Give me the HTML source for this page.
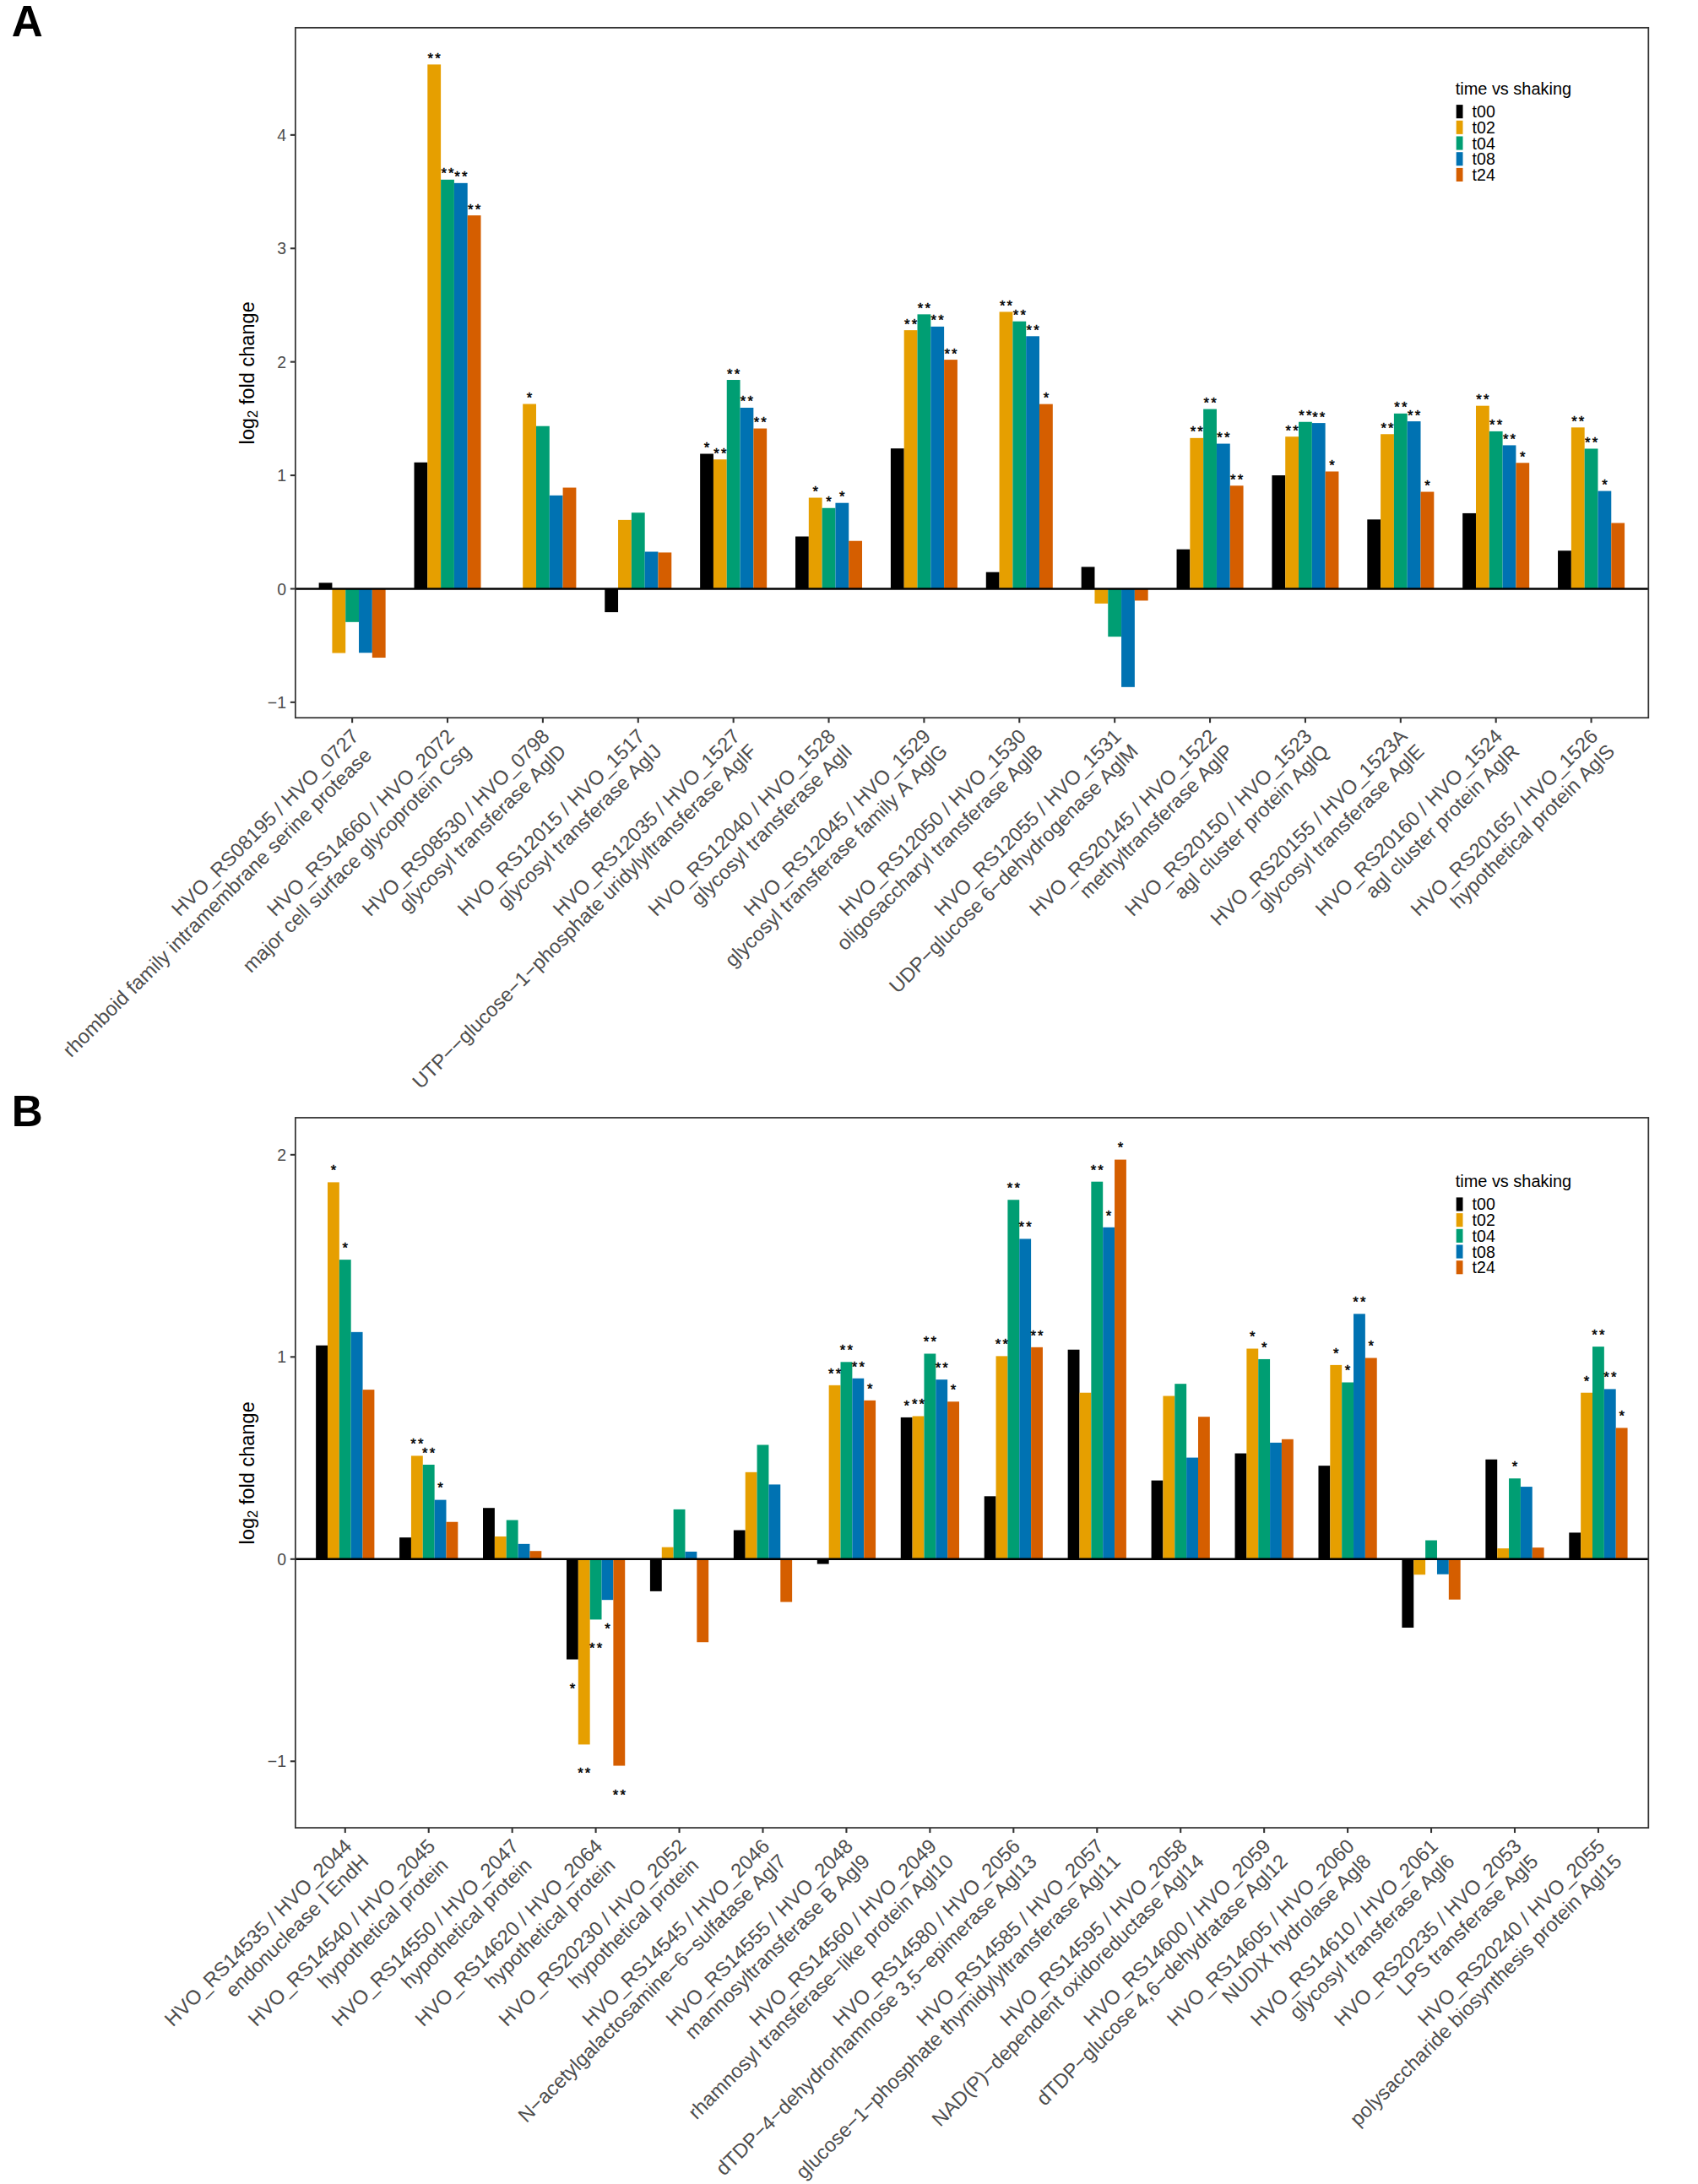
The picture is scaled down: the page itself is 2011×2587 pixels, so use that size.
<!DOCTYPE html>
<html lang="en"><head><meta charset="utf-8"><title>Figure</title>
<style>html,body{margin:0;padding:0;background:#fff;}svg{display:block;font-family:"Liberation Sans",sans-serif;}text{white-space:pre;font-kerning:none;}</style></head><body>
<svg width="2011" height="2587" viewBox="0 0 2011 2587">
<rect width="2011" height="2587" fill="#fff"/>
<text x="13.7" y="42.9" font-size="51.2" font-weight="bold" fill="#000">A</text>
<rect x="377.62" y="690.33" width="15.8" height="7.12" fill="#000000"/>
<rect x="393.42" y="697.45" width="15.8" height="76.07" fill="#E69F00"/>
<rect x="409.23" y="697.45" width="15.8" height="39.38" fill="#009E73"/>
<rect x="425.03" y="697.45" width="15.8" height="75.8" fill="#0072B2"/>
<rect x="440.83" y="697.45" width="15.8" height="81.58" fill="#D55E00"/>
<rect x="490.5" y="547.73" width="15.8" height="149.72" fill="#000000"/>
<rect x="506.3" y="76.39" width="15.8" height="621.06" fill="#E69F00"/>
<rect x="522.11" y="212.8" width="15.8" height="484.65" fill="#009E73"/>
<rect x="537.91" y="216.84" width="15.8" height="480.61" fill="#0072B2"/>
<rect x="553.71" y="255.14" width="15.8" height="442.31" fill="#D55E00"/>
<rect x="619.18" y="478.51" width="15.8" height="218.94" fill="#E69F00"/>
<rect x="634.99" y="504.72" width="15.8" height="192.73" fill="#009E73"/>
<rect x="650.79" y="586.84" width="15.8" height="110.61" fill="#0072B2"/>
<rect x="666.59" y="577.57" width="15.8" height="119.88" fill="#D55E00"/>
<rect x="716.26" y="697.45" width="15.8" height="27.69" fill="#000000"/>
<rect x="732.06" y="615.87" width="15.8" height="81.58" fill="#E69F00"/>
<rect x="747.87" y="607.27" width="15.8" height="90.18" fill="#009E73"/>
<rect x="763.67" y="653.5" width="15.8" height="43.95" fill="#0072B2"/>
<rect x="779.47" y="654.44" width="15.8" height="43.01" fill="#D55E00"/>
<rect x="829.14" y="537.51" width="15.8" height="159.94" fill="#000000"/>
<rect x="844.94" y="544.23" width="15.8" height="153.22" fill="#E69F00"/>
<rect x="860.75" y="450.02" width="15.8" height="247.43" fill="#009E73"/>
<rect x="876.55" y="482.95" width="15.8" height="214.5" fill="#0072B2"/>
<rect x="892.35" y="507.54" width="15.8" height="189.91" fill="#D55E00"/>
<rect x="942.02" y="635.49" width="15.8" height="61.96" fill="#000000"/>
<rect x="957.82" y="589.53" width="15.8" height="107.92" fill="#E69F00"/>
<rect x="973.63" y="601.76" width="15.8" height="95.69" fill="#009E73"/>
<rect x="989.43" y="595.71" width="15.8" height="101.74" fill="#0072B2"/>
<rect x="1005.23" y="640.73" width="15.8" height="56.72" fill="#D55E00"/>
<rect x="1054.9" y="531.2" width="15.8" height="166.25" fill="#000000"/>
<rect x="1070.7" y="391.15" width="15.8" height="306.3" fill="#E69F00"/>
<rect x="1086.51" y="372.34" width="15.8" height="325.11" fill="#009E73"/>
<rect x="1102.31" y="386.85" width="15.8" height="310.6" fill="#0072B2"/>
<rect x="1118.11" y="426.1" width="15.8" height="271.35" fill="#D55E00"/>
<rect x="1167.78" y="677.69" width="15.8" height="19.76" fill="#000000"/>
<rect x="1183.59" y="369.38" width="15.8" height="328.07" fill="#E69F00"/>
<rect x="1199.39" y="380.67" width="15.8" height="316.78" fill="#009E73"/>
<rect x="1215.19" y="398.28" width="15.8" height="299.17" fill="#0072B2"/>
<rect x="1231" y="478.65" width="15.8" height="218.8" fill="#D55E00"/>
<rect x="1280.66" y="671.51" width="15.8" height="25.94" fill="#000000"/>
<rect x="1296.47" y="697.45" width="15.8" height="17.47" fill="#E69F00"/>
<rect x="1312.27" y="697.45" width="15.8" height="56.72" fill="#009E73"/>
<rect x="1328.07" y="697.45" width="15.8" height="116.39" fill="#0072B2"/>
<rect x="1343.88" y="697.45" width="15.8" height="13.98" fill="#D55E00"/>
<rect x="1393.54" y="650.68" width="15.8" height="46.77" fill="#000000"/>
<rect x="1409.35" y="518.83" width="15.8" height="178.62" fill="#E69F00"/>
<rect x="1425.15" y="484.56" width="15.8" height="212.89" fill="#009E73"/>
<rect x="1440.95" y="525.55" width="15.8" height="171.9" fill="#0072B2"/>
<rect x="1456.76" y="575.28" width="15.8" height="122.17" fill="#D55E00"/>
<rect x="1506.42" y="563.05" width="15.8" height="134.4" fill="#000000"/>
<rect x="1522.23" y="517.22" width="15.8" height="180.23" fill="#E69F00"/>
<rect x="1538.03" y="499.75" width="15.8" height="197.7" fill="#009E73"/>
<rect x="1553.83" y="501.09" width="15.8" height="196.36" fill="#0072B2"/>
<rect x="1569.64" y="558.48" width="15.8" height="138.97" fill="#D55E00"/>
<rect x="1619.3" y="615.33" width="15.8" height="82.12" fill="#000000"/>
<rect x="1635.11" y="514.26" width="15.8" height="183.19" fill="#E69F00"/>
<rect x="1650.91" y="489.8" width="15.8" height="207.65" fill="#009E73"/>
<rect x="1666.71" y="499.08" width="15.8" height="198.37" fill="#0072B2"/>
<rect x="1682.52" y="582.54" width="15.8" height="114.91" fill="#D55E00"/>
<rect x="1732.18" y="607.94" width="15.8" height="89.51" fill="#000000"/>
<rect x="1747.99" y="480.66" width="15.8" height="216.79" fill="#E69F00"/>
<rect x="1763.79" y="510.9" width="15.8" height="186.55" fill="#009E73"/>
<rect x="1779.59" y="527.43" width="15.8" height="170.02" fill="#0072B2"/>
<rect x="1795.4" y="548.27" width="15.8" height="149.18" fill="#D55E00"/>
<rect x="1845.06" y="652.29" width="15.8" height="45.16" fill="#000000"/>
<rect x="1860.87" y="506.33" width="15.8" height="191.12" fill="#E69F00"/>
<rect x="1876.67" y="531.47" width="15.8" height="165.98" fill="#009E73"/>
<rect x="1892.47" y="581.6" width="15.8" height="115.85" fill="#0072B2"/>
<rect x="1908.28" y="619.5" width="15.8" height="77.95" fill="#D55E00"/>
<line x1="349.85" y1="697.45" x2="1952.3" y2="697.45" stroke="#000" stroke-width="2.6"/>
<g font-size="16.7" text-anchor="middle" letter-spacing="2.2" fill="#000" stroke="#000" stroke-width="0.45">
<text x="515.31" y="74.88">**</text>
<text x="531.11" y="211.3">**</text>
<text x="546.91" y="215.33">**</text>
<text x="562.71" y="253.63">**</text>
<text x="628.19" y="477">*</text>
<text x="838.14" y="536.01">*</text>
<text x="853.95" y="542.73">**</text>
<text x="869.75" y="448.51">**</text>
<text x="885.55" y="481.44">**</text>
<text x="901.36" y="506.04">**</text>
<text x="966.83" y="588.02">*</text>
<text x="982.63" y="600.25">*</text>
<text x="998.43" y="594.2">*</text>
<text x="1079.71" y="389.64">**</text>
<text x="1095.51" y="370.83">**</text>
<text x="1111.31" y="385.34">**</text>
<text x="1127.12" y="424.59">**</text>
<text x="1192.59" y="367.87">**</text>
<text x="1208.39" y="379.16">**</text>
<text x="1224.19" y="396.77">**</text>
<text x="1240" y="477.14">*</text>
<text x="1418.35" y="517.32">**</text>
<text x="1434.15" y="483.05">**</text>
<text x="1449.95" y="524.04">**</text>
<text x="1465.76" y="573.77">**</text>
<text x="1531.23" y="515.71">**</text>
<text x="1547.03" y="498.24">**</text>
<text x="1562.83" y="499.58">**</text>
<text x="1578.64" y="556.97">*</text>
<text x="1644.11" y="512.76">**</text>
<text x="1659.91" y="488.29">**</text>
<text x="1675.71" y="497.57">**</text>
<text x="1691.52" y="581.03">*</text>
<text x="1756.99" y="479.16">**</text>
<text x="1772.79" y="509.4">**</text>
<text x="1788.59" y="525.93">**</text>
<text x="1804.4" y="546.76">*</text>
<text x="1869.87" y="504.83">**</text>
<text x="1885.67" y="529.96">**</text>
<text x="1901.48" y="580.09">*</text>
</g>
<rect x="349.85" y="32.85" width="1602.45" height="817.35" fill="none" stroke="#333333" stroke-width="1.75"/>
<g font-size="19.5" text-anchor="end" fill="#4D4D4D">
<line x1="343.85" y1="831.85" x2="349.85" y2="831.85" stroke="#333333" stroke-width="2.1"/>
<text x="339" y="838.95">−1</text>
<line x1="343.85" y1="697.45" x2="349.85" y2="697.45" stroke="#333333" stroke-width="2.1"/>
<text x="339" y="704.55">0</text>
<line x1="343.85" y1="563.05" x2="349.85" y2="563.05" stroke="#333333" stroke-width="2.1"/>
<text x="339" y="570.15">1</text>
<line x1="343.85" y1="428.65" x2="349.85" y2="428.65" stroke="#333333" stroke-width="2.1"/>
<text x="339" y="435.75">2</text>
<line x1="343.85" y1="294.25" x2="349.85" y2="294.25" stroke="#333333" stroke-width="2.1"/>
<text x="339" y="301.35">3</text>
<line x1="343.85" y1="159.85" x2="349.85" y2="159.85" stroke="#333333" stroke-width="2.1"/>
<text x="339" y="166.95">4</text>
</g>
<g font-size="23.8" text-anchor="end" fill="#4D4D4D">
<line x1="417.13" y1="850.2" x2="417.13" y2="856.2" stroke="#333333" stroke-width="2.1"/>
<text transform="translate(426.38,873.55) rotate(-45)"><tspan x="0" y="0">HVO_RS08195 / HVO_0727</tspan><tspan x="1.3" y="26.8">rhomboid family intramembrane serine protease </tspan></text>
<line x1="530.01" y1="850.2" x2="530.01" y2="856.2" stroke="#333333" stroke-width="2.1"/>
<text transform="translate(539.26,873.55) rotate(-45)"><tspan x="0" y="0">HVO_RS14660 / HVO_2072</tspan><tspan x="1.3" y="26.8">major cell surface glycoprotein Csg</tspan></text>
<line x1="642.89" y1="850.2" x2="642.89" y2="856.2" stroke="#333333" stroke-width="2.1"/>
<text transform="translate(652.14,873.55) rotate(-45)"><tspan x="0" y="0">HVO_RS08530 / HVO_0798</tspan><tspan x="1.3" y="26.8">glycosyl transferase AglD</tspan></text>
<line x1="755.77" y1="850.2" x2="755.77" y2="856.2" stroke="#333333" stroke-width="2.1"/>
<text transform="translate(765.02,873.55) rotate(-45)"><tspan x="0" y="0">HVO_RS12015 / HVO_1517</tspan><tspan x="1.3" y="26.8">glycosyl transferase AglJ</tspan></text>
<line x1="868.65" y1="850.2" x2="868.65" y2="856.2" stroke="#333333" stroke-width="2.1"/>
<text transform="translate(877.9,873.55) rotate(-45)"><tspan x="0" y="0">HVO_RS12035 / HVO_1527</tspan><tspan x="1.3" y="26.8">UTP−−glucose−1−phosphate uridylyltransferase AglF</tspan></text>
<line x1="981.53" y1="850.2" x2="981.53" y2="856.2" stroke="#333333" stroke-width="2.1"/>
<text transform="translate(990.78,873.55) rotate(-45)"><tspan x="0" y="0">HVO_RS12040 / HVO_1528</tspan><tspan x="1.3" y="26.8">glycosyl transferase AglI</tspan></text>
<line x1="1094.41" y1="850.2" x2="1094.41" y2="856.2" stroke="#333333" stroke-width="2.1"/>
<text transform="translate(1103.66,873.55) rotate(-45)"><tspan x="0" y="0">HVO_RS12045 / HVO_1529</tspan><tspan x="1.3" y="26.8">glycosyl transferase family A AglG</tspan></text>
<line x1="1207.29" y1="850.2" x2="1207.29" y2="856.2" stroke="#333333" stroke-width="2.1"/>
<text transform="translate(1216.54,873.55) rotate(-45)"><tspan x="0" y="0">HVO_RS12050 / HVO_1530</tspan><tspan x="1.3" y="26.8">oligosaccharyl transferase AglB</tspan></text>
<line x1="1320.17" y1="850.2" x2="1320.17" y2="856.2" stroke="#333333" stroke-width="2.1"/>
<text transform="translate(1329.42,873.55) rotate(-45)"><tspan x="0" y="0">HVO_RS12055 / HVO_1531</tspan><tspan x="1.3" y="26.8">UDP−glucose 6−dehydrogenase AglM</tspan></text>
<line x1="1433.05" y1="850.2" x2="1433.05" y2="856.2" stroke="#333333" stroke-width="2.1"/>
<text transform="translate(1442.3,873.55) rotate(-45)"><tspan x="0" y="0">HVO_RS20145 / HVO_1522</tspan><tspan x="1.3" y="26.8">methyltransferase AglP</tspan></text>
<line x1="1545.93" y1="850.2" x2="1545.93" y2="856.2" stroke="#333333" stroke-width="2.1"/>
<text transform="translate(1555.18,873.55) rotate(-45)"><tspan x="0" y="0">HVO_RS20150 / HVO_1523</tspan><tspan x="1.3" y="26.8">agl cluster protein AglQ</tspan></text>
<line x1="1658.81" y1="850.2" x2="1658.81" y2="856.2" stroke="#333333" stroke-width="2.1"/>
<text transform="translate(1668.06,873.55) rotate(-45)"><tspan x="0" y="0">HVO_RS20155 / HVO_1523A</tspan><tspan x="1.3" y="26.8">glycosyl transferase AglE</tspan></text>
<line x1="1771.69" y1="850.2" x2="1771.69" y2="856.2" stroke="#333333" stroke-width="2.1"/>
<text transform="translate(1780.94,873.55) rotate(-45)"><tspan x="0" y="0">HVO_RS20160 / HVO_1524</tspan><tspan x="1.3" y="26.8">agl cluster protein AglR</tspan></text>
<line x1="1884.57" y1="850.2" x2="1884.57" y2="856.2" stroke="#333333" stroke-width="2.1"/>
<text transform="translate(1893.82,873.55) rotate(-45)"><tspan x="0" y="0">HVO_RS20165 / HVO_1526</tspan><tspan x="1.3" y="26.8">hypothetical protein AglS</tspan></text>
</g>
<text transform="translate(301.1,441.83) rotate(-90)" font-size="23.62" text-anchor="middle" fill="#000">log<tspan font-size="16.53" dy="4.2">2</tspan><tspan dy="-4.2"> fold change</tspan></text>
<g font-size="19.6" fill="#000">
<text x="1723.7" y="111.6" font-size="19.95">time vs shaking</text>
<rect x="1724.7" y="124.1" width="7.8" height="16.1" fill="#000000"/>
<text x="1743.6" y="139.1">t00</text>
<rect x="1724.7" y="142.8" width="7.8" height="16.1" fill="#E69F00"/>
<text x="1743.6" y="157.8">t02</text>
<rect x="1724.7" y="161.5" width="7.8" height="16.1" fill="#009E73"/>
<text x="1743.6" y="176.5">t04</text>
<rect x="1724.7" y="180.2" width="7.8" height="16.1" fill="#0072B2"/>
<text x="1743.6" y="195.2">t08</text>
<rect x="1724.7" y="198.9" width="7.8" height="16.1" fill="#D55E00"/>
<text x="1743.6" y="213.9">t24</text>
</g>
<text x="13.7" y="1334.1" font-size="51.2" font-weight="bold" fill="#000">B</text>
<rect x="374.14" y="1593.67" width="13.85" height="253.13" fill="#000000"/>
<rect x="387.99" y="1400.41" width="13.85" height="446.39" fill="#E69F00"/>
<rect x="401.84" y="1492.13" width="13.85" height="354.67" fill="#009E73"/>
<rect x="415.69" y="1577.86" width="13.85" height="268.94" fill="#0072B2"/>
<rect x="429.54" y="1646.12" width="13.85" height="200.68" fill="#D55E00"/>
<rect x="473.08" y="1821.18" width="13.85" height="25.62" fill="#000000"/>
<rect x="486.93" y="1724.43" width="13.85" height="122.37" fill="#E69F00"/>
<rect x="500.78" y="1734.96" width="13.85" height="111.84" fill="#009E73"/>
<rect x="514.64" y="1776.63" width="13.85" height="70.17" fill="#0072B2"/>
<rect x="528.49" y="1802.74" width="13.85" height="44.06" fill="#D55E00"/>
<rect x="572.02" y="1786.21" width="13.85" height="60.59" fill="#000000"/>
<rect x="585.88" y="1819.98" width="13.85" height="26.82" fill="#E69F00"/>
<rect x="599.73" y="1800.58" width="13.85" height="46.22" fill="#009E73"/>
<rect x="613.58" y="1828.84" width="13.85" height="17.96" fill="#0072B2"/>
<rect x="627.43" y="1837.22" width="13.85" height="9.58" fill="#D55E00"/>
<rect x="670.97" y="1846.8" width="13.85" height="118.78" fill="#000000"/>
<rect x="684.82" y="1846.8" width="13.85" height="219.6" fill="#E69F00"/>
<rect x="698.67" y="1846.8" width="13.85" height="71.6" fill="#009E73"/>
<rect x="712.53" y="1846.8" width="13.85" height="48.37" fill="#0072B2"/>
<rect x="726.38" y="1846.8" width="13.85" height="244.75" fill="#D55E00"/>
<rect x="769.91" y="1846.8" width="13.85" height="38.08" fill="#000000"/>
<rect x="783.77" y="1832.67" width="13.85" height="14.13" fill="#E69F00"/>
<rect x="797.62" y="1787.89" width="13.85" height="58.91" fill="#009E73"/>
<rect x="811.47" y="1837.94" width="13.85" height="8.86" fill="#0072B2"/>
<rect x="825.32" y="1846.8" width="13.85" height="98.43" fill="#D55E00"/>
<rect x="868.86" y="1812.55" width="13.85" height="34.25" fill="#000000"/>
<rect x="882.71" y="1743.82" width="13.85" height="102.98" fill="#E69F00"/>
<rect x="896.56" y="1711.49" width="13.85" height="135.31" fill="#009E73"/>
<rect x="910.41" y="1758.43" width="13.85" height="88.37" fill="#0072B2"/>
<rect x="924.27" y="1846.8" width="13.85" height="50.77" fill="#D55E00"/>
<rect x="967.8" y="1846.8" width="13.85" height="5.75" fill="#000000"/>
<rect x="981.65" y="1640.85" width="13.85" height="205.95" fill="#E69F00"/>
<rect x="995.51" y="1613.31" width="13.85" height="233.49" fill="#009E73"/>
<rect x="1009.36" y="1632.7" width="13.85" height="214.1" fill="#0072B2"/>
<rect x="1023.21" y="1658.81" width="13.85" height="187.99" fill="#D55E00"/>
<rect x="1066.75" y="1678.92" width="13.85" height="167.88" fill="#000000"/>
<rect x="1080.6" y="1677.49" width="13.85" height="169.31" fill="#E69F00"/>
<rect x="1094.45" y="1603.49" width="13.85" height="243.31" fill="#009E73"/>
<rect x="1108.3" y="1634.14" width="13.85" height="212.66" fill="#0072B2"/>
<rect x="1122.16" y="1660.25" width="13.85" height="186.55" fill="#D55E00"/>
<rect x="1165.69" y="1772.32" width="13.85" height="74.48" fill="#000000"/>
<rect x="1179.54" y="1606.36" width="13.85" height="240.44" fill="#E69F00"/>
<rect x="1193.4" y="1421.24" width="13.85" height="425.56" fill="#009E73"/>
<rect x="1207.25" y="1467.46" width="13.85" height="379.34" fill="#0072B2"/>
<rect x="1221.1" y="1595.82" width="13.85" height="250.98" fill="#D55E00"/>
<rect x="1264.64" y="1598.7" width="13.85" height="248.1" fill="#000000"/>
<rect x="1278.49" y="1649.71" width="13.85" height="197.09" fill="#E69F00"/>
<rect x="1292.34" y="1399.69" width="13.85" height="447.11" fill="#009E73"/>
<rect x="1306.19" y="1453.81" width="13.85" height="392.99" fill="#0072B2"/>
<rect x="1320.05" y="1373.59" width="13.85" height="473.21" fill="#D55E00"/>
<rect x="1363.58" y="1753.64" width="13.85" height="93.16" fill="#000000"/>
<rect x="1377.43" y="1653.54" width="13.85" height="193.26" fill="#E69F00"/>
<rect x="1391.29" y="1639.17" width="13.85" height="207.63" fill="#009E73"/>
<rect x="1405.14" y="1726.58" width="13.85" height="120.22" fill="#0072B2"/>
<rect x="1418.99" y="1678.21" width="13.85" height="168.59" fill="#D55E00"/>
<rect x="1462.53" y="1721.55" width="13.85" height="125.25" fill="#000000"/>
<rect x="1476.38" y="1597.5" width="13.85" height="249.3" fill="#E69F00"/>
<rect x="1490.23" y="1609.95" width="13.85" height="236.85" fill="#009E73"/>
<rect x="1504.08" y="1708.86" width="13.85" height="137.94" fill="#0072B2"/>
<rect x="1517.93" y="1704.79" width="13.85" height="142.01" fill="#D55E00"/>
<rect x="1561.47" y="1736.16" width="13.85" height="110.64" fill="#000000"/>
<rect x="1575.32" y="1616.9" width="13.85" height="229.9" fill="#E69F00"/>
<rect x="1589.17" y="1637.49" width="13.85" height="209.31" fill="#009E73"/>
<rect x="1603.03" y="1556.31" width="13.85" height="290.49" fill="#0072B2"/>
<rect x="1616.88" y="1608.52" width="13.85" height="238.28" fill="#D55E00"/>
<rect x="1660.41" y="1846.8" width="13.85" height="81.18" fill="#000000"/>
<rect x="1674.27" y="1846.8" width="13.85" height="18.44" fill="#E69F00"/>
<rect x="1688.12" y="1824.53" width="13.85" height="22.27" fill="#009E73"/>
<rect x="1701.97" y="1846.8" width="13.85" height="17.96" fill="#0072B2"/>
<rect x="1715.82" y="1846.8" width="13.85" height="47.9" fill="#D55E00"/>
<rect x="1759.36" y="1728.74" width="13.85" height="118.06" fill="#000000"/>
<rect x="1773.21" y="1834.11" width="13.85" height="12.69" fill="#E69F00"/>
<rect x="1787.06" y="1751.25" width="13.85" height="95.55" fill="#009E73"/>
<rect x="1800.92" y="1761.07" width="13.85" height="85.73" fill="#0072B2"/>
<rect x="1814.77" y="1833.15" width="13.85" height="13.65" fill="#D55E00"/>
<rect x="1858.3" y="1815.43" width="13.85" height="31.37" fill="#000000"/>
<rect x="1872.16" y="1649.71" width="13.85" height="197.09" fill="#E69F00"/>
<rect x="1886.01" y="1595.11" width="13.85" height="251.69" fill="#009E73"/>
<rect x="1899.86" y="1645.4" width="13.85" height="201.4" fill="#0072B2"/>
<rect x="1913.71" y="1691.38" width="13.85" height="155.42" fill="#D55E00"/>
<line x1="349.85" y1="1846.8" x2="1952.3" y2="1846.8" stroke="#000" stroke-width="2.6"/>
<g font-size="16.7" text-anchor="middle" letter-spacing="2.2" fill="#000" stroke="#000" stroke-width="0.45">
<text x="396.01" y="1392.25">*</text>
<text x="409.87" y="1483.97">*</text>
<text x="494.96" y="1716.27">**</text>
<text x="508.81" y="1726.8">**</text>
<text x="522.66" y="1768.47">*</text>
<text x="679" y="2005.63">*</text>
<text x="692.85" y="2106.45">**</text>
<text x="706.7" y="1958.45">**</text>
<text x="720.55" y="1935.22">*</text>
<text x="734.4" y="2131.6">**</text>
<text x="989.68" y="1632.69">**</text>
<text x="1003.53" y="1605.15">**</text>
<text x="1017.39" y="1624.55">**</text>
<text x="1031.24" y="1650.65">*</text>
<text x="1074.77" y="1670.77">*</text>
<text x="1088.63" y="1669.33">**</text>
<text x="1102.48" y="1595.33">**</text>
<text x="1116.33" y="1625.98">**</text>
<text x="1130.18" y="1652.09">*</text>
<text x="1187.57" y="1598.2">**</text>
<text x="1201.42" y="1413.08">**</text>
<text x="1215.27" y="1459.3">**</text>
<text x="1229.13" y="1587.67">**</text>
<text x="1300.37" y="1391.53">**</text>
<text x="1314.22" y="1445.65">*</text>
<text x="1328.07" y="1365.43">*</text>
<text x="1484.4" y="1589.34">*</text>
<text x="1498.26" y="1601.8">*</text>
<text x="1583.35" y="1608.74">*</text>
<text x="1597.2" y="1629.34">*</text>
<text x="1611.05" y="1548.15">**</text>
<text x="1624.9" y="1600.36">*</text>
<text x="1795.09" y="1743.09">*</text>
<text x="1880.18" y="1641.55">*</text>
<text x="1894.03" y="1586.95">**</text>
<text x="1907.89" y="1637.24">**</text>
<text x="1921.74" y="1683.22">*</text>
</g>
<rect x="349.85" y="1323.95" width="1602.45" height="841.1" fill="none" stroke="#333333" stroke-width="1.75"/>
<g font-size="19.5" text-anchor="end" fill="#4D4D4D">
<line x1="343.85" y1="2086.28" x2="349.85" y2="2086.28" stroke="#333333" stroke-width="2.1"/>
<text x="339" y="2093.38">−1</text>
<line x1="343.85" y1="1846.8" x2="349.85" y2="1846.8" stroke="#333333" stroke-width="2.1"/>
<text x="339" y="1853.9">0</text>
<line x1="343.85" y1="1607.32" x2="349.85" y2="1607.32" stroke="#333333" stroke-width="2.1"/>
<text x="339" y="1614.42">1</text>
<line x1="343.85" y1="1367.84" x2="349.85" y2="1367.84" stroke="#333333" stroke-width="2.1"/>
<text x="339" y="1374.94">2</text>
</g>
<g font-size="23.8" text-anchor="end" fill="#4D4D4D">
<line x1="408.77" y1="2165.05" x2="408.77" y2="2171.05" stroke="#333333" stroke-width="2.1"/>
<text transform="translate(418.02,2188.4) rotate(-45)"><tspan x="0" y="0">HVO_RS14535 / HVO_2044</tspan><tspan x="1.3" y="26.8">endonuclease I EndH</tspan></text>
<line x1="507.71" y1="2165.05" x2="507.71" y2="2171.05" stroke="#333333" stroke-width="2.1"/>
<text transform="translate(516.96,2188.4) rotate(-45)"><tspan x="0" y="0">HVO_RS14540 / HVO_2045</tspan><tspan x="1.3" y="26.8">hypothetical protein </tspan></text>
<line x1="606.66" y1="2165.05" x2="606.66" y2="2171.05" stroke="#333333" stroke-width="2.1"/>
<text transform="translate(615.91,2188.4) rotate(-45)"><tspan x="0" y="0">HVO_RS14550 / HVO_2047</tspan><tspan x="1.3" y="26.8">hypothetical protein </tspan></text>
<line x1="705.6" y1="2165.05" x2="705.6" y2="2171.05" stroke="#333333" stroke-width="2.1"/>
<text transform="translate(714.85,2188.4) rotate(-45)"><tspan x="0" y="0">HVO_RS14620 / HVO_2064</tspan><tspan x="1.3" y="26.8">hypothetical protein </tspan></text>
<line x1="804.54" y1="2165.05" x2="804.54" y2="2171.05" stroke="#333333" stroke-width="2.1"/>
<text transform="translate(813.79,2188.4) rotate(-45)"><tspan x="0" y="0">HVO_RS20230 / HVO_2052</tspan><tspan x="1.3" y="26.8">hypothetical protein </tspan></text>
<line x1="903.49" y1="2165.05" x2="903.49" y2="2171.05" stroke="#333333" stroke-width="2.1"/>
<text transform="translate(912.74,2188.4) rotate(-45)"><tspan x="0" y="0">HVO_RS14545 / HVO_2046</tspan><tspan x="1.3" y="26.8">N−acetylgalactosamine−6−sulfatase Agl7</tspan></text>
<line x1="1002.43" y1="2165.05" x2="1002.43" y2="2171.05" stroke="#333333" stroke-width="2.1"/>
<text transform="translate(1011.68,2188.4) rotate(-45)"><tspan x="0" y="0">HVO_RS14555 / HVO_2048</tspan><tspan x="1.3" y="26.8">mannosyltransferase B Agl9</tspan></text>
<line x1="1101.38" y1="2165.05" x2="1101.38" y2="2171.05" stroke="#333333" stroke-width="2.1"/>
<text transform="translate(1110.63,2188.4) rotate(-45)"><tspan x="0" y="0">HVO_RS14560 / HVO_2049</tspan><tspan x="1.3" y="26.8">rhamnosyl transferase−like protein Agl10</tspan></text>
<line x1="1200.32" y1="2165.05" x2="1200.32" y2="2171.05" stroke="#333333" stroke-width="2.1"/>
<text transform="translate(1209.57,2188.4) rotate(-45)"><tspan x="0" y="0">HVO_RS14580 / HVO_2056</tspan><tspan x="1.3" y="26.8">dTDP−4−dehydrorhamnose 3,5−epimerase Agl13</tspan></text>
<line x1="1299.27" y1="2165.05" x2="1299.27" y2="2171.05" stroke="#333333" stroke-width="2.1"/>
<text transform="translate(1308.52,2188.4) rotate(-45)"><tspan x="0" y="0">HVO_RS14585 / HVO_2057</tspan><tspan x="1.3" y="26.8">glucose−1−phosphate thymidylyltransferase Agl11</tspan></text>
<line x1="1398.21" y1="2165.05" x2="1398.21" y2="2171.05" stroke="#333333" stroke-width="2.1"/>
<text transform="translate(1407.46,2188.4) rotate(-45)"><tspan x="0" y="0">HVO_RS14595 / HVO_2058</tspan><tspan x="1.3" y="26.8">NAD(P)−dependent oxidoreductase Agl14</tspan></text>
<line x1="1497.16" y1="2165.05" x2="1497.16" y2="2171.05" stroke="#333333" stroke-width="2.1"/>
<text transform="translate(1506.41,2188.4) rotate(-45)"><tspan x="0" y="0">HVO_RS14600 / HVO_2059</tspan><tspan x="1.3" y="26.8">dTDP−glucose 4,6−dehydratase Agl12</tspan></text>
<line x1="1596.1" y1="2165.05" x2="1596.1" y2="2171.05" stroke="#333333" stroke-width="2.1"/>
<text transform="translate(1605.35,2188.4) rotate(-45)"><tspan x="0" y="0">HVO_RS14605 / HVO_2060</tspan><tspan x="1.3" y="26.8">NUDIX hydrolase Agl8</tspan></text>
<line x1="1695.04" y1="2165.05" x2="1695.04" y2="2171.05" stroke="#333333" stroke-width="2.1"/>
<text transform="translate(1704.29,2188.4) rotate(-45)"><tspan x="0" y="0">HVO_RS14610 / HVO_2061</tspan><tspan x="1.3" y="26.8">glycosyl transferase Agl6</tspan></text>
<line x1="1793.99" y1="2165.05" x2="1793.99" y2="2171.05" stroke="#333333" stroke-width="2.1"/>
<text transform="translate(1803.24,2188.4) rotate(-45)"><tspan x="0" y="0">HVO_RS20235 / HVO_2053</tspan><tspan x="1.3" y="26.8">LPS transferase Agl5</tspan></text>
<line x1="1892.93" y1="2165.05" x2="1892.93" y2="2171.05" stroke="#333333" stroke-width="2.1"/>
<text transform="translate(1902.18,2188.4) rotate(-45)"><tspan x="0" y="0">HVO_RS20240 / HVO_2055</tspan><tspan x="1.3" y="26.8">polysaccharide biosynthesis protein Agl15</tspan></text>
</g>
<text transform="translate(301.1,1744.8) rotate(-90)" font-size="23.62" text-anchor="middle" fill="#000">log<tspan font-size="16.53" dy="4.2">2</tspan><tspan dy="-4.2"> fold change</tspan></text>
<g font-size="19.6" fill="#000">
<text x="1723.7" y="1405.9" font-size="19.95">time vs shaking</text>
<rect x="1724.7" y="1418.4" width="7.8" height="16.1" fill="#000000"/>
<text x="1743.6" y="1433.4">t00</text>
<rect x="1724.7" y="1437.1" width="7.8" height="16.1" fill="#E69F00"/>
<text x="1743.6" y="1452.1">t02</text>
<rect x="1724.7" y="1455.8" width="7.8" height="16.1" fill="#009E73"/>
<text x="1743.6" y="1470.8">t04</text>
<rect x="1724.7" y="1474.5" width="7.8" height="16.1" fill="#0072B2"/>
<text x="1743.6" y="1489.5">t08</text>
<rect x="1724.7" y="1493.2" width="7.8" height="16.1" fill="#D55E00"/>
<text x="1743.6" y="1508.2">t24</text>
</g>
</svg></body></html>
